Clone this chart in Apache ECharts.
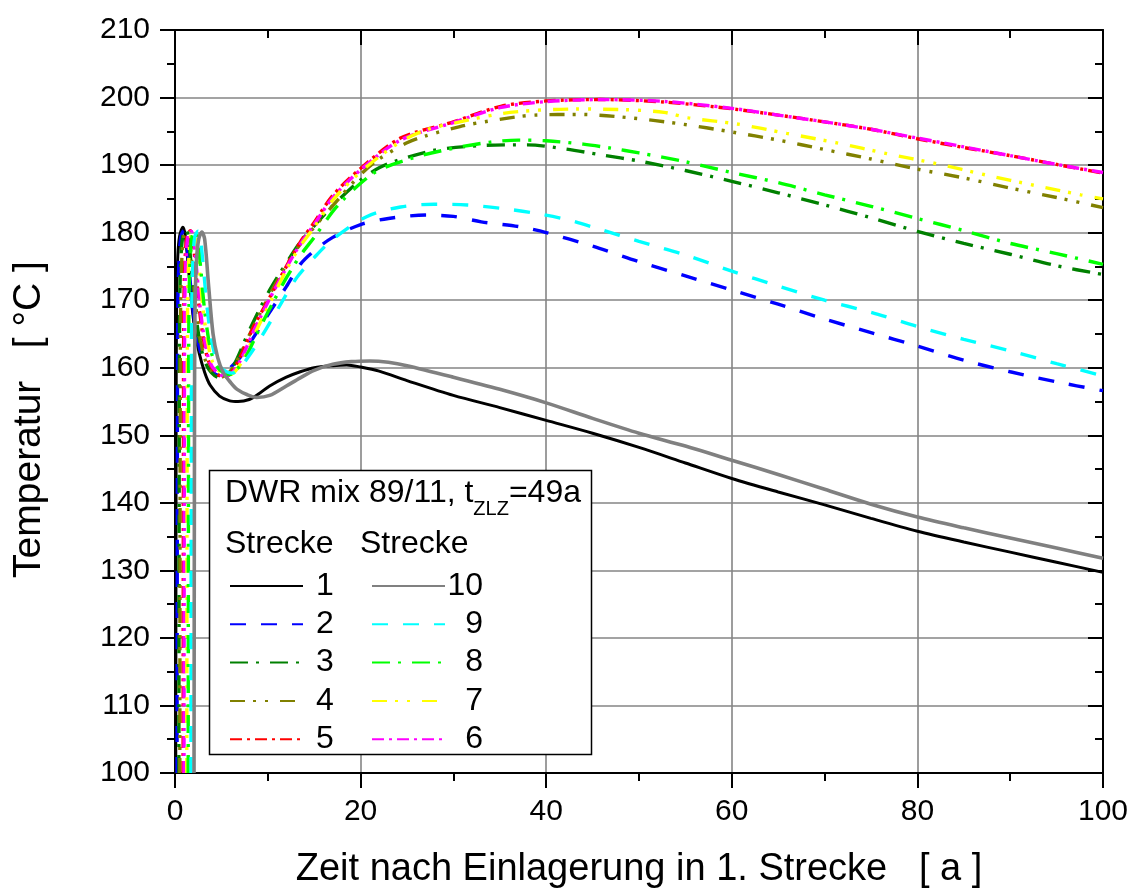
<!DOCTYPE html>
<html>
<head>
<meta charset="utf-8">
<script src="https://cdn.jsdelivr.net/npm/echarts@6/dist/echarts.min.js"></script>
<style>
html,body{margin:0;padding:0;background:#fff;overflow:hidden;}
#c{width:1134px;height:894px;}
</style>
</head>
<body>
<div id="c"></div>
<script>
// ---- data (x = Zeit [a], y = Temperatur [°C]) ----
const xTicks = [0, 20, 40, 60, 80, 100];
const yTicks = [100, 110, 120, 130, 140, 150, 160, 170, 180, 190, 200, 210];

const strecke1 = [[0.08,100],[0.12,150],[0.17,170],[0.3,176.5],[0.5,179.5],[0.85,180.8],[1.1,179.6],[1.4,175.5],[1.8,169.5],[2.2,165],[2.6,162.2],[3.2,159.3],[3.8,157.4],[4.8,155.8],[5.9,155.1],[6.8,155],[8,155.3],[9,156.1],[10.2,157.3],[12,158.6],[13.5,159.4],[15,160],[17,160.3],[18.5,160.4],[20,160.1],[22,159.5],[25,158.1],[30,155.9],[35,154.1],[40,152.2],[45,150.3],[50,148.2],[55,145.9],[60,143.6],[65,141.6],[70,139.7],[75,137.7],[80,135.8],[85,134.2],[90,132.7],[95,131.2],[100,129.7]];
const strecke2 = [[0.22,100],[0.26,150],[0.31,170],[0.45,176.5],[0.65,179.5],[0.95,180.3],[1.2,179.2],[1.5,175],[1.9,169],[2.4,164.5],[2.9,161.7],[3.6,160],[4.4,159],[5.2,158.8],[6.1,160.2],[7,161.5],[8,163.5],[10,167.8],[12,172],[13.5,175.3],[15,177.3],[17,179.3],[20,181.2],[23,182.1],[27,182.6],[30,182.4],[33,181.6],[37,180.9],[40,180],[45,178],[50,175.7],[55,173.6],[60,171.5],[65,169.4],[70,167.2],[75,165.2],[80,163.2],[85,161.1],[90,159.4],[95,157.9],[100,156.6]];
const strecke3 = [[0.42,100],[0.46,150],[0.51,170],[0.65,176.5],[0.85,179.5],[1.2,180.4],[1.45,179.2],[1.75,175],[2.15,169],[2.65,164],[3.2,161],[3.9,159.3],[4.8,158.5],[5.6,159],[6.5,160.8],[8,165.5],[10,171],[12,175.5],[13.5,178.6],[15,181],[17,184],[20,187.8],[22,189.6],[24,190.7],[28,192.2],[33,192.9],[38,193],[42,192.4],[46,191.5],[50,190.6],[55,189.2],[60,187.6],[65,185.9],[70,184.1],[75,182.2],[80,180.2],[85,178.4],[90,176.8],[95,175.1],[100,173.8]];
const strecke4 = [[0.52,100],[0.56,150],[0.61,170],[0.75,176.5],[0.95,179.5],[1.3,180.3],[1.55,179.2],[1.85,175],[2.25,169],[2.75,164],[3.3,161],[4,159.4],[4.9,158.6],[5.7,159.1],[6.6,160.8],[8,164.8],[10,170.3],[12,175.2],[13.5,178.3],[15,180.8],[17,184],[20,188.6],[22,190.9],[25,193.3],[27.2,194.4],[30.7,195.7],[33.3,196.4],[38.7,197.4],[43.7,197.5],[49,197],[54.5,196.1],[60,194.9],[65,193.7],[70,192.3],[75,190.9],[80,189.4],[85,188.1],[90,186.6],[95,185.2],[100,183.7]];
const strecke5 = [[0.87,100],[0.91,150],[0.96,170],[1.1,176.5],[1.3,179.5],[1.65,180.3],[1.9,179.2],[2.2,175],[2.6,169],[3.1,164],[3.6,161],[4.3,159.4],[5.2,158.6],[6,159.2],[7,161.5],[8.45,166],[10.2,170.4],[12,175],[13.5,178.6],[15,181.5],[17,185.5],[20,189.5],[24.3,194],[30,196.4],[35.1,198.7],[40,199.5],[45.8,199.7],[53,199.3],[60.2,198.3],[65,197.4],[70,196.4],[75,195.3],[80,193.9],[85,192.6],[90,191.4],[95,190.1],[100,188.8]];
const strecke6 = [[0.97,100],[1.01,150],[1.06,170],[1.2,176.5],[1.4,179.5],[1.75,180.2],[2.0,179.1],[2.3,175],[2.7,169],[3.2,164],[3.7,161],[4.4,159.5],[5.4,158.7],[6.2,159.3],[7.2,161.5],[8.5,165.5],[10.2,170.2],[12,174.8],[13.5,178.3],[15,181.2],[17,185.2],[20,189.3],[24.3,193.7],[30,196.3],[35,198.5],[40,199.4],[46,199.7],[53,199.4],[60,198.4],[65,197.4],[70,196.4],[75,195.3],[80,194],[85,192.7],[90,191.4],[95,190.1],[100,188.9]];
const strecke7 = [[1.27,100],[1.31,150],[1.36,170],[1.5,176.5],[1.7,179.5],[2.05,180.2],[2.3,179],[2.6,175],[3,169],[3.5,164],[4,161],[4.7,159.6],[5.7,158.8],[6.5,159.5],[7.5,161.6],[8.7,165.3],[10.3,169.8],[12,174.5],[13.5,178],[15,180.8],[17,184.8],[20,189],[24,193.2],[27,195.2],[30,196.2],[35.1,197.6],[38.7,198.1],[43.2,198.3],[48.6,198.2],[52.7,197.8],[55.3,197],[60.5,196.1],[65.9,194.7],[71.3,193.3],[76.7,191.7],[82.1,190.2],[87.5,188.5],[92.6,187],[97.6,185.6],[100,185]];
const strecke8 = [[1.42,100],[1.46,150],[1.51,170],[1.65,176.5],[1.85,179.5],[2.2,180.2],[2.45,179],[2.75,175],[3.15,169],[3.65,164],[4.2,161],[4.9,159.6],[5.9,159],[6.7,159.8],[7.7,161.8],[9,165.5],[10.5,169.5],[12,173.3],[13.5,176.6],[15,179.3],[17.4,183.8],[20,187.3],[22,189.3],[26,191.2],[30,192.5],[34,193.4],[37,193.7],[40,193.6],[44,193.1],[47,192.5],[50,191.8],[55,190.5],[60,188.9],[65,187.4],[70,185.6],[75,183.9],[80,182.1],[85,180.3],[90,178.4],[95,176.9],[100,175.3]];
const strecke9 = [[1.72,100],[1.76,150],[1.81,170],[1.95,176.5],[2.15,179.5],[2.5,180.2],[2.75,179],[3.05,175],[3.45,169],[3.95,164],[4.5,161],[5.2,159.7],[6.2,159.2],[7,160],[8,161.8],[9.5,165],[11,168.5],[13.1,173.3],[15,176.3],[17,179],[20.7,182.4],[24.3,183.8],[27.9,184.2],[31.5,184.1],[35.1,183.6],[38.7,182.9],[42.3,181.9],[45.8,180.5],[50,178.7],[55,176.7],[60,174.3],[65,172.1],[70,170],[75,168.2],[80,166.1],[85,164.2],[90,162.5],[95,160.6],[100,158.8]];
const strecke10 = [[2.05,100],[2.1,150],[2.15,168],[2.3,175.5],[2.55,179],[2.9,180.1],[3.2,179],[3.6,172.5],[4.1,165],[4.6,161.5],[5.2,159.3],[6,157.8],[6.7,156.8],[7.8,156],[8.8,155.6],[10.2,155.9],[12,157.3],[13.5,158.5],[15,159.6],[17,160.5],[19,160.9],[21,161],[23,160.8],[25,160.3],[30,158.6],[35,156.8],[40,154.8],[45,152.5],[50,150.3],[55,148.4],[60,146.3],[65,144.2],[70,142],[75,139.8],[80,137.9],[85,136.3],[90,134.8],[95,133.3],[100,131.8]];

const seriesNames = ['1','2','3','4','5','6','7','8','9','10'];
const seriesData = [strecke1,strecke2,strecke3,strecke4,strecke5,strecke6,strecke7,strecke8,strecke9,strecke10];
const legendLeftNames = ['1','2','3','4','5'];
const legendRightNames = ['10','9','8','7','6'];
const xTitle = 'Zeit nach Einlagerung in 1. Strecke   [ a ]';
const yTitle = 'Temperatur   [ °C ]';

// ---- styles ----
const FONT = '"Liberation Sans", Arial, sans-serif';
const dashA = [16, 15];
const dashDot = [18, 8, 3, 11];
const dashDotDot = [15, 8, 3, 9, 3, 12];
const shortDashDot = [12, 5, 3, 5];
const styles = {
  '1':  {color:'#000000', type:'solid', width:3},
  '2':  {color:'#0000ff', type:dashA, width:3.4},
  '3':  {color:'#008000', type:dashDot, width:3.4},
  '4':  {color:'#808000', type:dashDotDot, width:3.4},
  '5':  {color:'#ff0000', type:shortDashDot, width:3.4},
  '6':  {color:'#ff00ff', type:shortDashDot, width:3.4},
  '7':  {color:'#ffff00', type:dashDotDot, width:3.4},
  '8':  {color:'#00ff00', type:dashDot, width:3.4},
  '9':  {color:'#00ffff', type:dashA, width:3.4},
  '10': {color:'#808080', type:'solid', width:3.6}
};

const chart = echarts.init(document.getElementById('c'), null, {renderer:'canvas'});

const series = seriesNames.map((n, i) => ({
  name: n,
  type: 'line',
  data: seriesData[i],
  symbol: 'none',
  smooth: 0.3,
  clip: true,
  animation: false,
  color: styles[n].color,
  lineStyle: {color: styles[n].color, type: styles[n].type, width: styles[n].width, cap: 'butt'},
  z: 2 + i * 0.01
}));

const tickStyle = {color:'#000', width:2};
const gridStyle = {color:'#858585', width:1.6};

const legendCommon = {
  orient: 'vertical',
  itemWidth: 73,
  itemHeight: 12,
  itemGap: 6.3,
  selectedMode: false,
  z: 20,
  itemStyle: {opacity: 0},
  textStyle: {fontFamily: FONT, fontSize: 32, color:'#000', lineHeight: 32}
};

chart.setOption({
  animation: false,
  backgroundColor: '#fff',
  grid: {left: 175, top: 30, width: 928, height: 746, containLabel: false},
  xAxis: [{
    type: 'value', min: 0, max: 100, interval: 20,
    axisLine: {show: true, onZero: false, lineStyle: {color:'#000', width: 2}},
    axisTick: {show: true, inside: false, length: 15, lineStyle: tickStyle},
    minorTick: {show: true, splitNumber: 2, length: 8, lineStyle: tickStyle},
    axisLabel: {margin: 24, fontFamily: FONT, fontSize: 30, color:'#000',
      formatter: v => xTicks.includes(v) ? String(v) : ''},
    splitLine: {show: true, lineStyle: gridStyle},
    name: xTitle, nameLocation: 'middle', nameGap: 78,
    nameTextStyle: {fontFamily: FONT, fontSize: 38, color:'#000'}
  }, {
    type: 'value', min: 0, max: 100, interval: 20, position: 'top',
    axisLine: {show: true, onZero: false, lineStyle: {color:'#000', width: 2}},
    axisTick: {show: true, inside: true, length: 15, lineStyle: tickStyle},
    minorTick: {show: true, splitNumber: 2, length: 8, lineStyle: tickStyle},
    axisLabel: {show: false}, splitLine: {show: false}
  }],
  yAxis: [{
    type: 'value', min: 100, max: 210, interval: 10,
    axisLine: {show: true, onZero: false, lineStyle: {color:'#000', width: 2}},
    axisTick: {show: true, inside: false, length: 15, lineStyle: tickStyle},
    minorTick: {show: true, splitNumber: 2, length: 8, lineStyle: tickStyle},
    axisLabel: {margin: 25, fontFamily: FONT, fontSize: 30, color:'#000',
      formatter: v => yTicks.includes(v) ? String(v) : ''},
    splitLine: {show: true, lineStyle: gridStyle},
    name: yTitle, nameLocation: 'middle', nameGap: 126,
    nameTextStyle: {fontFamily: FONT, fontSize: 39, color:'#000', padding: [0, 36, 0, 0]}
  }, {
    type: 'value', min: 100, max: 210, interval: 10, position: 'right',
    axisLine: {show: true, onZero: false, lineStyle: {color:'#000', width: 2}},
    axisTick: {show: true, inside: true, length: 15, lineStyle: tickStyle},
    minorTick: {show: true, splitNumber: 2, length: 8, lineStyle: tickStyle},
    axisLabel: {show: false}, splitLine: {show: false}
  }],
  legend: [
    Object.assign({}, legendCommon, {
      data: legendLeftNames, left: 224, top: 565,
      formatter: n => '{a|' + n + '}',
      textStyle: Object.assign({}, legendCommon.textStyle, {
        rich: {a: {fontFamily: FONT, fontSize: 32, color:'#000', padding: [0,0,0,8], lineHeight: 32}}
      })
    }),
    Object.assign({}, legendCommon, {
      data: legendRightNames, left: 366, top: 565,
      formatter: n => '{a|' + n + '}',
      textStyle: Object.assign({}, legendCommon.textStyle, {
        rich: {a: {fontFamily: FONT, fontSize: 32, color:'#000', width: 33, align: 'right', lineHeight: 32}}
      })
    })
  ],
  graphic: [
    {type: 'rect', z: 10, shape: {x: 209.5, y: 470.5, width: 382, height: 284},
      style: {fill: '#fff', stroke: '#000', lineWidth: 1.5}},
    {type: 'text', z: 21, left: 225, top: 477,
      style: {text: '{a|DWR mix 89/11, t}{s|ZLZ}{a|=49a}', fill: '#000',
        rich: {a: {fontFamily: FONT, fontSize: 32, lineHeight: 36, verticalAlign: 'bottom'},
               s: {fontFamily: FONT, fontSize: 20, lineHeight: 36, verticalAlign: 'bottom', padding: [0,0,-10,0]}}}},
    {type: 'text', z: 21, left: 225, top: 528,
      style: {text: 'Strecke', fill: '#000', font: '32px ' + FONT}},
    {type: 'text', z: 21, left: 360, top: 528,
      style: {text: 'Strecke', fill: '#000', font: '32px ' + FONT}}
  ],
  series: series
});
</script>
</body>
</html>
